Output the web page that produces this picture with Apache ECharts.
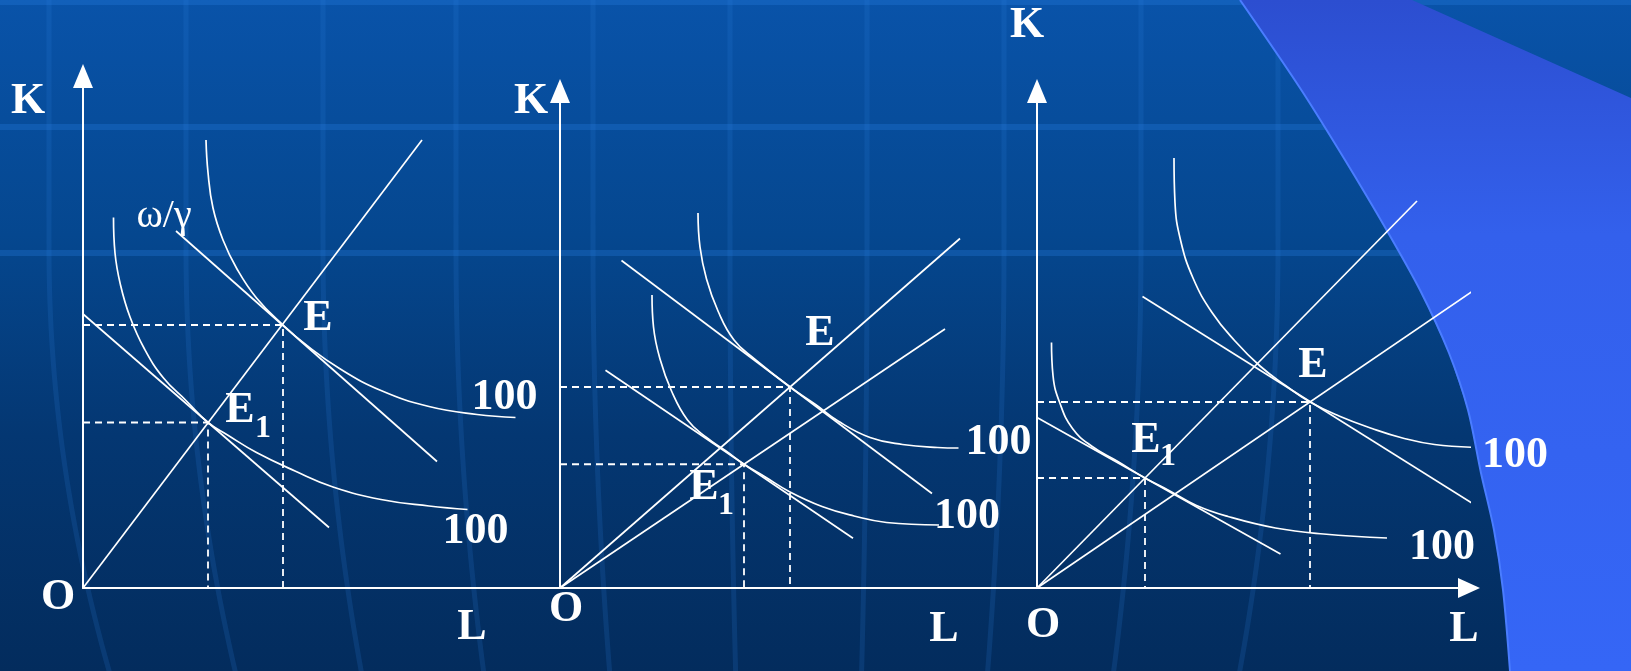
<!DOCTYPE html>
<html><head><meta charset="utf-8">
<script src="https://cdn.jsdelivr.net/npm/echarts@6/dist/echarts.min.js"></script>
<style>
html,body{margin:0;padding:0;}
#c{width:1631px;height:671px;background:linear-gradient(180deg,#0953a9 0%,#05478f 35%,#043772 65%,#032c5d 100%);}
</style>
</head><body><div id="c"></div>
<script>
// ---------- data (units: L on x, K on y) ----------
// Panel 1
const p1Ray = [[0,0],[67.8,89.6]];
const p1CostLow = [[0,54.8],[49.2,12.1]];
const p1CostHigh = [[18.6,71.4],[70.8,25.3]];
const p1QuantLow = [[6.1,74.1],[6.4,67.0],[7.5,60.6],[9.4,54.2],[12.3,47.8],[16.1,42.0],[20.6,37.5],[25.0,33.1],[28.9,30.6],[34.7,27.1],[42.4,23.4],[50.0,20.2],[59.6,17.7],[69.2,16.4],[76.9,15.7]];
const p1QuantHigh = [[24.6,89.6],[25.0,83.1],[26.0,76.0],[28.0,69.6],[30.8,63.8],[34.7,58.0],[40.0,52.6],[44.9,48.4],[51.3,43.9],[59.6,39.5],[69.2,36.3],[78.8,34.7],[86.5,34.1]];
const p1E = [40,52.6];
const p1E1 = [25,33.1];
// Panel 2
const p2RaySteep = [[0,0],[80,69.9]];
const p2RayFlat = [[0,0],[77,51.8]];
const p2CostHigh = [[12.3,65.5],[74.4,18.9]];
const p2CostLow = [[9.1,43.55],[58.6,9.95]];
const p2QuantHigh = [[27.6,75.0],[28.0,68.2],[29.3,61.8],[31.6,55.4],[34.8,49.6],[38.9,45.8],[46.0,40.2],[51.1,36.7],[55.6,33.4],[62.0,30.1],[68.5,28.7],[75.5,28.1],[79.7,28.0]];
const p2QuantLow = [[18.4,58.6],[18.7,52.2],[20.0,45.8],[22.3,39.4],[25.5,33.6],[29.3,30.1],[33.2,27.4],[36.8,24.75],[40.9,22.3],[46.0,19.2],[52.4,16.3],[58.8,14.4],[65.3,13.1],[75.8,12.6]];
const p2E = [46,40.2];
const p2E1 = [36.8,24.75];
// Panel 3
const p3RaySteep = [[0,0],[76,77.4]];
const p3RayFlat = [[0,0],[98.6,67.2]];
const p3CostHigh = [[21.1,58.3],[89,15.7]];
const p3CostLow = [[0,34.1],[48.7,6.8]];
const p3QuantHigh = [[27.4,86.0],[27.6,77.1],[28.7,69.6],[31.2,62.0],[35.0,55.1],[39.5,49.5],[44.6,44.4],[49.7,40.5],[54.6,37.2],[60.4,34.4],[67.0,31.9],[73.1,30.0],[79.5,28.7],[88.4,28.1]];
const p3QuantLow = [[2.9,49.1],[3.2,42.5],[4.6,36.9],[7.1,31.9],[10.9,28.4],[16.0,25.4],[21.6,22.0],[26.2,19.6],[31.9,16.5],[38.2,14.3],[47.7,12.0],[57.3,10.8],[70.0,10.0]];
const p3E = [54.6,37.2];
const p3E1 = [21.6,22.0];
// texts
const qLabel = '100';
const ratioLabel = 'ω/γ';
const axisK = 'K', axisL = 'L', axisO = 'O';

// ---------- layout ----------
const PX = 5; // pixels per unit
const originY = 588;
const grids = [
  {left:83, top:76, width:477},
  {left:560, top:91, width:477},
  {left:1037, top:91, width:432}
];
const FONT = "'Liberation Serif','Times New Roman',serif";
const last = a => a[a.length-1];

const chart = echarts.init(document.getElementById('c'), null, {renderer:'canvas'});

const gridOpt = grids.map(g => ({left:g.left, top:g.top, width:g.width, height:originY-g.top, containLabel:false}));
const xAxes = grids.map((g,i) => ({
  type:'value', gridIndex:i, min:0, max:g.width/PX,
  axisLine:{show:true, onZero:false, lineStyle:{color:'#fff', width:2},
    symbol: i===2 ? ['none','triangle'] : ['none','none'], symbolSize:[20,22]},
  axisTick:{show:false}, axisLabel:{show:false}, splitLine:{show:false}
}));
const yAxes = grids.map((g,i) => ({
  type:'value', gridIndex:i, min:0, max:(originY-g.top)/PX,
  axisLine:{show:true, onZero:false, lineStyle:{color:'#fff', width:2},
    symbol:['none','triangle'], symbolSize:[20,24]},
  axisTick:{show:false}, axisLabel:{show:false}, splitLine:{show:false}
}));

const series = [];
function line(data, gi, smooth, dashed){
  series.push({type:'line', xAxisIndex:gi, yAxisIndex:gi, data:data, smooth:smooth?0.45:false,
    showSymbol:false, symbol:'none', clip:false, silent:true,
    lineStyle:{color:'#fff', width: dashed?1.8:1.7, type: dashed?[7,5]:'solid', opacity:1}});
}
function drop(p, gi){ line([[0,p[1]],[p[0],p[1]],[p[0],0]], gi, false, true); }

// panel 1
line(p1Ray,0); line(p1CostLow,0); line(p1CostHigh,0);
line(p1QuantLow,0,true); line(p1QuantHigh,0,true);
drop(p1E,0); drop(p1E1,0);
// panel 2
line(p2RaySteep,1); line(p2RayFlat,1); line(p2CostHigh,1); line(p2CostLow,1);
line(p2QuantHigh,1,true); line(p2QuantLow,1,true);
drop(p2E,1); drop(p2E1,1);
// panel 3
line(p3RaySteep,2); line(p3RayFlat,2); line(p3CostHigh,2); line(p3CostLow,2);
line(p3QuantHigh,2,true); line(p3QuantLow,2,true);
drop(p3E,2); drop(p3E1,2);

// labels anchored at data points
function lab(p, text, off, size, bold){
  return {value:p, label:{show:true, position:'inside', formatter:text, offset:off, opacity:1,
    color:'#ffffff', textBorderWidth:0, fontFamily:FONT, fontSize:size||44, fontWeight: bold===false?'normal':'bold'}};
}
function labels(gi, items){
  series.push({type:'scatter', xAxisIndex:gi, yAxisIndex:gi, symbolSize:1, clip:false, silent:true,
    itemStyle:{color:'rgba(0,0,0,0)', opacity:1}, z:5, data:items});
}
labels(0,[
  lab(p1E,'E',[35,-6]),
  lab(p1E1,'E',[32,-12]), lab(p1E1,'1',[55,6],32),
  lab(last(p1QuantHigh),qLabel,[-11,-20]),
  lab(last(p1QuantLow),qLabel,[8,22]),
  lab(p1CostHigh[0],ratioLabel,[-12,-15],40,false)
]);
labels(1,[
  lab(p2E,'E',[30,-53]),
  lab(p2E1,'E',[-40,23]), lab(p2E1,'1',[-18,41],32),
  lab(last(p2QuantHigh),qLabel,[40,-5]),
  lab(last(p2QuantLow),qLabel,[28,-8])
]);
labels(2,[
  lab(p3E,'E',[3,-36]),
  lab(p3E1,'E',[1,-37]), lab(p3E1,'1',[23,-21],32),
  lab(last(p3QuantHigh),qLabel,[36,8]),
  lab(last(p3QuantLow),qLabel,[55,10])
]);

// background decoration + axis letters
const deco = [];
[127,253].forEach(y=>deco.push({type:'rect', z:-10, silent:true, shape:{x:0,y:y-3,width:1631,height:6},
  style:{fill:'rgba(40,125,225,0.30)'}}));
deco.push({type:'rect', z:-10, silent:true, shape:{x:0,y:0,width:1631,height:5}, style:{fill:'rgba(40,125,225,0.30)'}});
[49,186,323,456,593,730,867,1004,1141,1278].forEach(x0=>{
  const pts=[];
  for(let y=0;y<=690;y+=30){
    const t = y>250 ? (y-250)/421 : 0;
    pts.push([x0 + (800-x0)*0.08*t*t, y]);
  }
  deco.push({type:'polyline', z:-10, silent:true, shape:{points:pts, smooth:0.3},
    style:{stroke:'rgba(45,128,228,0.17)', lineWidth:5, fill:null}});
});
const edge = [[1240,0],[1300,88],[1345,160],[1386,229],[1420,290],[1449,353],[1468,410],[1481,473],[1494,530],[1503,590],[1510,671]];
deco.push({type:'polygon', z:-5, silent:true, shape:{points: edge.concat([[1631,671],[1631,98],[1412,0]])},
  style:{fill:new echarts.graphic.LinearGradient(0,0,0,1,[{offset:0,color:'#2c4ed0'},{offset:0.35,color:'#3360ec'},{offset:1,color:'#3566f6'}])}});
deco.push({type:'polyline', z:-4, silent:true, shape:{points:edge, smooth:0.3}, style:{stroke:'#4a7dff', lineWidth:2, fill:null}});
function txt(x,y,t){ deco.push({type:'text', z:10, silent:true, style:{x:x,y:y,text:t,fill:'#fff',
  font:"bold 44px "+FONT, textAlign:'center', textVerticalAlign:'middle'}}); }
txt(28,102,axisK); txt(531,102,axisK); txt(1027,26,axisK);
txt(58,598,axisO); txt(566,610,axisO); txt(1043,626,axisO);
txt(472,628,axisL); txt(944,630,axisL); txt(1464,630,axisL);

chart.setOption({
  animation:false,
  backgroundColor:'transparent',
  grid:gridOpt, xAxis:xAxes, yAxis:yAxes, series:series, graphic:deco
});
</script>
</body></html>
